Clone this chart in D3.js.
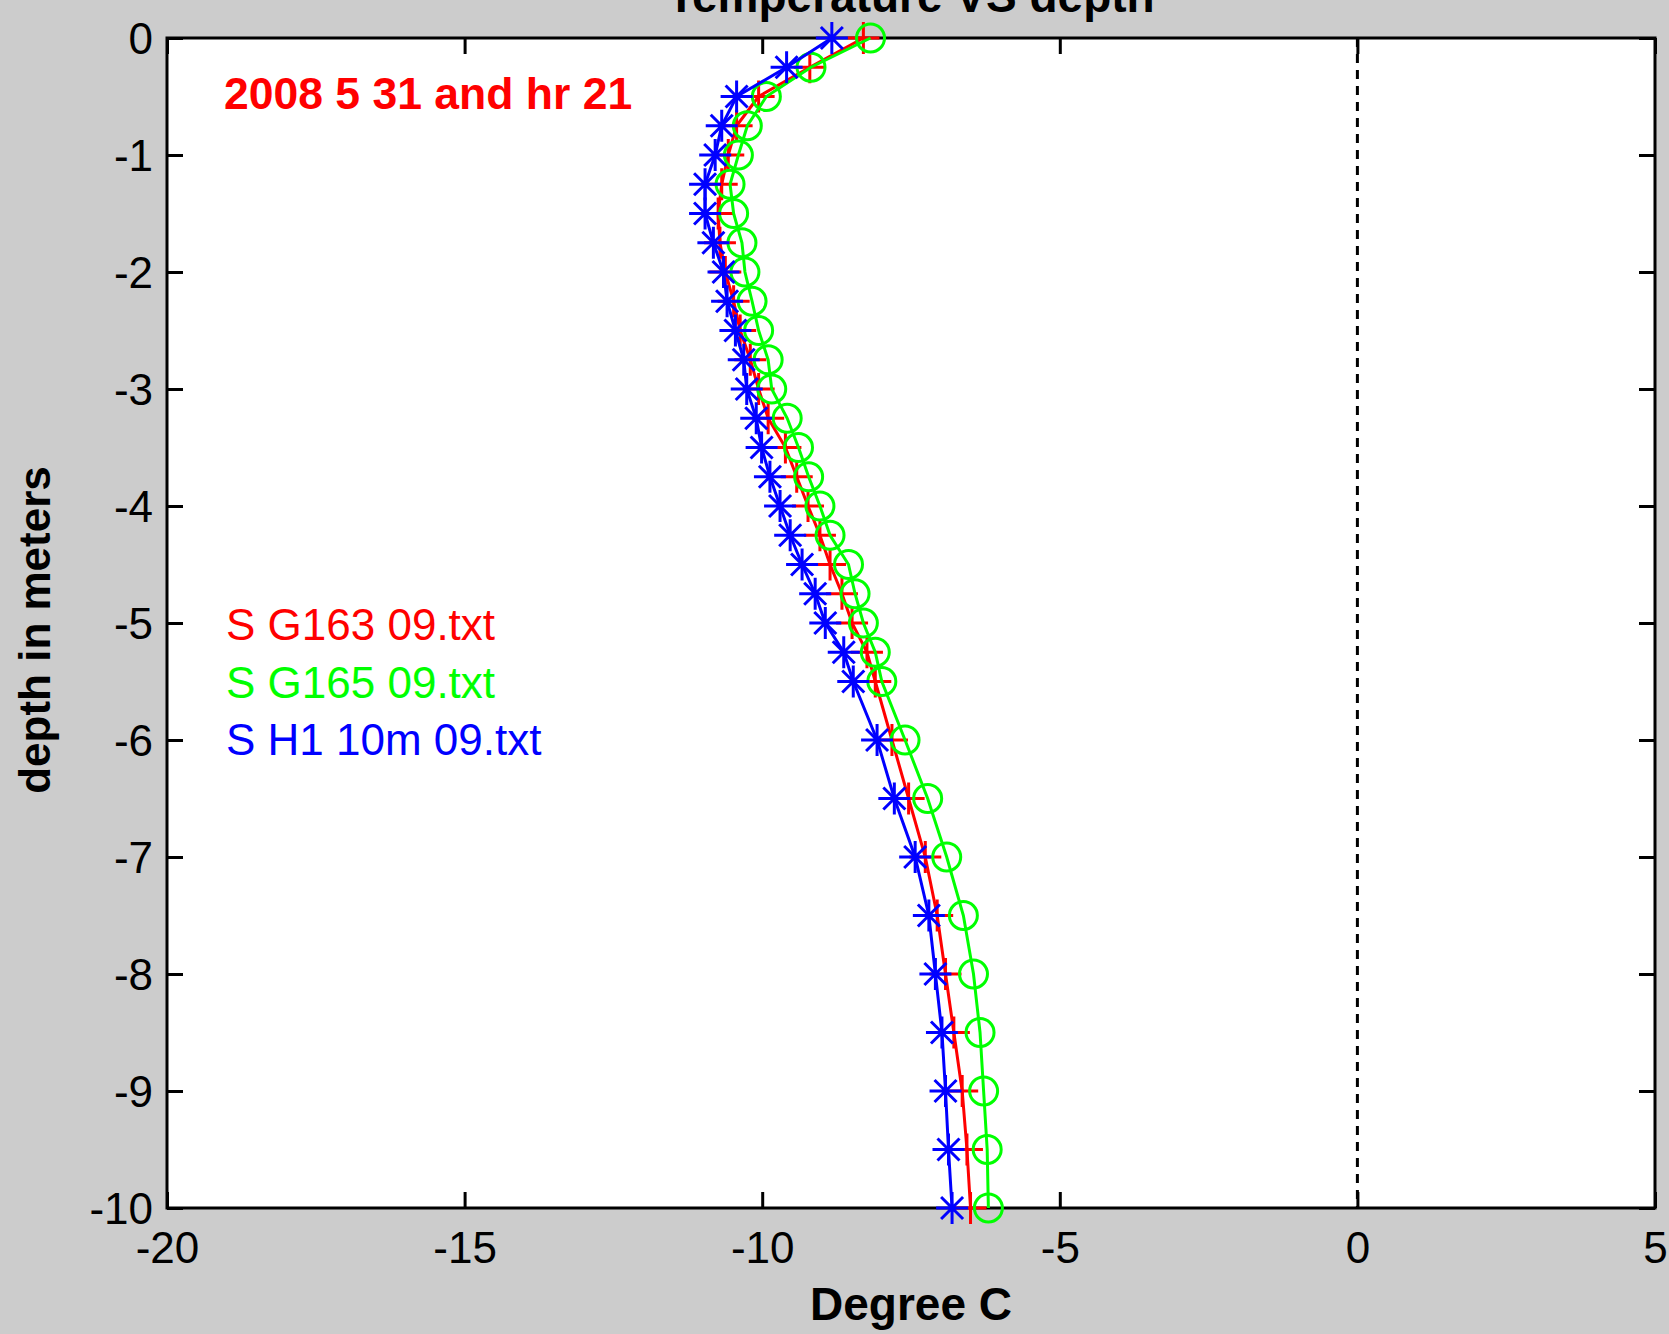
<!DOCTYPE html>
<html>
<head>
<meta charset="utf-8">
<title>Temperature VS depth</title>
<script src="https://cdn.jsdelivr.net/npm/d3@7"></script>
<style>
  html, body { margin: 0; padding: 0; background: #cccccc; }
  svg { display: block; }
</style>
</head>
<body>
<script>
// Temperature vs depth profiles (three loggers)
(function() {

    // depth levels (m)
    const depths = [0, -0.25, -0.5, -0.75, -1, -1.25, -1.5, -1.75, -2, -2.25, -2.5, -2.75,
        -3, -3.25, -3.5, -3.75, -4, -4.25, -4.5, -4.75, -5, -5.25, -5.5,
        -6, -6.5, -7, -7.5, -8, -8.5, -9, -9.5, -10];

    // temperatures (deg C), one value per depth
    const tempG163 = [-8.3, -9.2, -10.06, -10.43, -10.57, -10.68, -10.74, -10.71, -10.62, -10.48, -10.37, -10.2,
        -10.06, -9.9, -9.61, -9.42, -9.23, -9.03, -8.86, -8.66, -8.49, -8.24, -8.1,
        -7.82, -7.54, -7.26, -7.06, -6.92, -6.78, -6.64, -6.56, -6.5];
    const tempG165 = [-8.18, -9.18, -9.93, -10.25, -10.4, -10.54, -10.48, -10.34, -10.29, -10.17, -10.06, -9.9,
        -9.84, -9.58, -9.39, -9.22, -9.03, -8.86, -8.55, -8.44, -8.3, -8.1, -7.99,
        -7.6, -7.22, -6.9, -6.62, -6.45, -6.34, -6.28, -6.22, -6.2];
    const tempH1 = [-8.83, -9.59, -10.43, -10.68, -10.79, -10.96, -10.96, -10.82, -10.65, -10.59, -10.45, -10.31,
        -10.26, -10.1, -10.01, -9.87, -9.7, -9.53, -9.33, -9.11, -8.94, -8.63, -8.47,
        -8.07, -7.78, -7.43, -7.2, -7.09, -6.98, -6.92, -6.87, -6.81];

    const seriesNames = ["S G163 09.txt", "S G165 09.txt", "S H1 10m 09.txt"];
    const seriesColors = ["#ff0000", "#00ff00", "#0000ff"];
    const seriesMarkers = ["plus", "circle", "star"];

    const xTicks = [-20, -15, -10, -5, 0, 5];
    const yTicks = [0, -1, -2, -3, -4, -5, -6, -7, -8, -9, -10];

    const W = 1669, H = 1334;
    const box = {left: 167, right: 1655, top: 38, bottom: 1208};
    const font = "'Liberation Sans', Arial, Helvetica, sans-serif";
    // plain hyphen for negatives, like the original figure
    const fmt = d => String(d);

    const svg = d3.select("body").append("svg")
        .attr("width", W)
        .attr("height", H);

    svg.append("rect")
        .attr("width", W).attr("height", H)
        .attr("fill", "#cccccc");

    const x = d3.scaleLinear().domain([-20, 5]).range([box.left, box.right]);
    const y = d3.scaleLinear().domain([-10, 0]).range([box.bottom, box.top]);

    // plot area
    svg.append("rect")
        .attr("x", box.left).attr("y", box.top)
        .attr("width", box.right - box.left)
        .attr("height", box.bottom - box.top)
        .attr("fill", "#ffffff");

    // zero line
    svg.append("line")
        .attr("x1", x(0)).attr("x2", x(0))
        .attr("y1", y(0)).attr("y2", y(-10))
        .attr("stroke", "#000").attr("stroke-width", 3)
        .attr("stroke-dasharray", "9,7");

    // axes, ticks pointing inwards
    function styleAxis(g) {
        g.select(".domain").remove();
        g.selectAll(".tick line").attr("stroke", "#000").attr("stroke-width", 3);
        g.selectAll(".tick text")
            .attr("fill", "#000")
            .attr("font-family", font)
            .attr("font-size", 44);
    }

    svg.append("g")
        .attr("transform", "translate(0," + box.bottom + ")")
        .call(d3.axisBottom(x).tickValues(xTicks).tickSize(-16).tickPadding(24).tickFormat(fmt))
        .call(styleAxis);

    svg.append("g")
        .attr("transform", "translate(0," + box.top + ")")
        .call(d3.axisTop(x).tickValues(xTicks).tickSize(-16).tickFormat(""))
        .call(styleAxis);

    svg.append("g")
        .attr("transform", "translate(" + box.left + ",0)")
        .call(d3.axisLeft(y).tickValues(yTicks).tickSize(-16).tickPadding(14).tickFormat(fmt))
        .call(styleAxis)
        .selectAll(".tick text").attr("dy", "0.36em");

    svg.append("g")
        .attr("transform", "translate(" + box.right + ",0)")
        .call(d3.axisRight(y).tickValues(yTicks).tickSize(-16).tickFormat(""))
        .call(styleAxis);

    svg.append("rect")
        .attr("x", box.left).attr("y", box.top)
        .attr("width", box.right - box.left)
        .attr("height", box.bottom - box.top)
        .attr("fill", "none")
        .attr("stroke", "#000").attr("stroke-width", 3);

    // marker shapes
    function markerPath(kind) {
        if (kind === "plus") return "M-16,0H16M0,-16V16";
        if (kind === "star") return "M-16,0H16M0,-16V16M-11,-11L11,11M-11,11L11,-11";
        return d3.arc()({innerRadius: 0, outerRadius: 14, startAngle: 0, endAngle: 2 * Math.PI});
    }

    const line = d3.line()
        .x(d => x(d.t))
        .y(d => y(d.z));

    [tempG163, tempG165, tempH1].forEach(function(temps, i) {
        const data = depths.map((z, k) => ({z: z, t: temps[k]}));
        const g = svg.append("g");
        g.append("path")
            .datum(data)
            .attr("fill", "none")
            .attr("stroke", seriesColors[i])
            .attr("stroke-width", 3)
            .attr("d", line);
        g.selectAll("path.mk")
            .data(data)
            .enter().append("path")
            .attr("class", "mk")
            .attr("transform", d => "translate(" + x(d.t) + "," + y(d.z) + ")")
            .attr("d", markerPath(seriesMarkers[i]))
            .attr("fill", "none")
            .attr("stroke", seriesColors[i])
            .attr("stroke-width", 3);
    });

    // legend-like labels
    seriesNames.forEach(function(name, i) {
        svg.append("text")
            .attr("x", 226)
            .attr("y", 640 + i * 57.5)
            .attr("fill", seriesColors[i])
            .attr("font-family", font)
            .attr("font-size", 44)
            .text(name);
    });

    // date annotation
    svg.append("text")
        .attr("x", 224).attr("y", 109)
        .attr("fill", "#ff0000")
        .attr("font-family", font)
        .attr("font-weight", "bold")
        .attr("font-size", 44.5)
        .text("2008 5 31 and hr 21");

    // title (cut off by the top edge, as in the original)
    svg.append("text")
        .attr("x", (box.left + box.right) / 2).attr("y", 12)
        .attr("text-anchor", "middle")
        .attr("font-family", font)
        .attr("font-weight", "bold")
        .attr("font-size", 46)
        .text("Temperature VS depth");

    // axis labels
    svg.append("text")
        .attr("x", (box.left + box.right) / 2).attr("y", 1320)
        .attr("text-anchor", "middle")
        .attr("font-family", font)
        .attr("font-weight", "bold")
        .attr("font-size", 46)
        .text("Degree C");

    svg.append("text")
        .attr("transform", "translate(50," + ((box.top + box.bottom) / 2 + 7) + ") rotate(-90)")
        .attr("text-anchor", "middle")
        .attr("font-family", font)
        .attr("font-weight", "bold")
        .attr("font-size", 44)
        .text("depth in meters");

})();
</script>
</body>
</html>
